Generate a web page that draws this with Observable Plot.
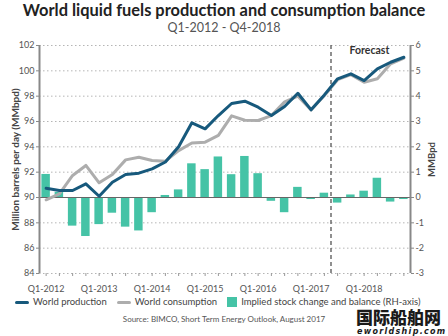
<!DOCTYPE html>
<html>
<head>
<meta charset="utf-8">
<script src="https://cdn.jsdelivr.net/npm/d3@7"></script>
<script src="https://cdn.jsdelivr.net/npm/@observablehq/plot@0.6"></script>
<style>
  html, body { margin: 0; padding: 0; background: #fff; }
  body { width: 448px; height: 336px; position: relative; overflow: hidden; font-family: Lato, "Open Sans", sans-serif; }
  #title { position: absolute; top: 0px; left: 0; width: 448px; text-align: center; font-weight: bold; font-size: 16.4px; line-height: 19px; color: #222; }
  #subtitle { position: absolute; top: 20px; left: 0; width: 448px; text-align: center; font-size: 12.5px; line-height: 15px; color: #555; }
  #chart { position: absolute; top: 36px; left: 0; }
  #legend { position: absolute; top: 296px; left: 15px; font-size: 9.5px; line-height: 12px; color: #444; white-space: nowrap; display: flex; align-items: center; }
  #legend .sw { display: inline-block; margin-right: 4px; }
  #legend .item { display: inline-flex; align-items: center; margin-right: 10px; }
  #source { position: absolute; top: 314px; left: 0; width: 448px; text-align: center; font-size: 8px; line-height: 10px; color: #555; }
  #wm1 { position: absolute; top: 308px; left: 356px; font-family: "Noto Sans CJK SC", sans-serif; font-weight: 900; font-size: 17px; line-height: 17px; color: #1a1a1a; }
  #wm2 { position: absolute; top: 327px; left: 357px; font-size: 8px; line-height: 9px; font-weight: bold; font-style: italic; color: #1a1a1a; letter-spacing: 1.3px; font-family: "DejaVu Sans", sans-serif; }
</style>
</head>
<body>
<div id="title">World liquid fuels production and consumption balance</div>
<div id="subtitle">Q1-2012 - Q4-2018</div>
<div id="chart"></div>
<div id="legend"></div>
<div id="source">Source: BIMCO, Short Term Energy Outlook, August 2017</div>
<div id="wm1">国际船舶网</div>
<div id="wm2">eworldship.com</div>
<script>
const quarters = ["Q1-2012","Q2-2012","Q3-2012","Q4-2012","Q1-2013","Q2-2013","Q3-2013","Q4-2013",
  "Q1-2014","Q2-2014","Q3-2014","Q4-2014","Q1-2015","Q2-2015","Q3-2015","Q4-2015",
  "Q1-2016","Q2-2016","Q3-2016","Q4-2016","Q1-2017","Q2-2017","Q3-2017","Q4-2017",
  "Q1-2018","Q2-2018","Q3-2018","Q4-2018"];
const production = [90.73, 90.55, 90.55, 91.08, 90.1, 91.2, 91.82, 91.92, 92.26, 92.8, 94.0, 95.9,
  95.42, 96.47, 97.42, 97.6, 97.13, 96.47, 97.18, 98.23, 96.92, 98.1, 99.37, 99.76, 99.23, 100.16, 100.68, 101.07];
const consumption = [89.82, 90.29, 91.74, 92.53, 91.16, 91.82, 92.97, 93.18, 92.92, 92.87, 93.7, 94.3,
  94.37, 94.9, 96.45, 96.1, 96.08, 96.47, 97.55, 98.0, 96.92, 98.05, 99.3, 99.7, 99.1, 99.37, 100.55, 101.0];
const balance = [0.91, 0.2, -1.13, -1.54, -1.07, -0.62, -1.17, -1.32, -0.6, 0.08, 0.3, 1.33,
  1.1, 1.6, 0.9, 1.62, 0.94, -0.15, -0.6, 0.4, -0.08, 0.17, -0.22, 0.1, 0.25, 0.76, -0.18, -0.08];
const leftTicks = [84, 86, 88, 90, 92, 94, 96, 98, 100, 102];
const rightTicks = [-3, -2, -1, 0, 1, 2, 3, 4, 5, 6];
const xLabelQuarters = ["Q1-2012","Q1-2013","Q1-2014","Q1-2015","Q1-2016","Q1-2017","Q1-2018"];
const forecastAfter = "Q2-2017";
const leftLabel = "Million barrels per day (MMbpd)";
const rightLabel = "MMBpd";

const rows = quarters.map((q, i) => ({q, i, production: production[i], consumption: consumption[i], balance: balance[i]}));
// right axis (MMBpd) maps onto left scale: 0 -> 90, 1 unit -> 2 units
const toLeft = v => 90 + 2 * v;
const fromLeft = v => (v - 90) / 2;

const cProd = "#17597c", cCons = "#adadad", cBar = "#45c3a6";
const fIdx = quarters.indexOf(forecastAfter) + 0.5;

const chart = Plot.plot({
  width: 448, height: 262,
  marginTop: 9, marginLeft: 39, marginRight: 38, marginBottom: 25,
  style: {fontFamily: "Lato, 'Open Sans', sans-serif", fontSize: "9px", color: "#555", background: "transparent", overflow: "visible"},
  x: {domain: [-0.5, quarters.length - 0.5]},
  y: {domain: [84, 102]},
  marks: [
    Plot.ruleY(leftTicks.filter(t => t !== 90), {stroke: "#b5b5b5", strokeDasharray: "1.5,2.5", strokeWidth: 1}),
    Plot.rectY(rows, {x1: d => d.i - 0.32, x2: d => d.i + 0.32, y1: 90, y2: d => toLeft(d.balance), fill: cBar}),
    Plot.ruleY([90], {stroke: "#666", strokeWidth: 1}),
    Plot.ruleX([fIdx], {stroke: "#555", strokeDasharray: "4,3", strokeWidth: 1.3}),
    Plot.line(rows, {x: "i", y: "consumption", stroke: cCons, strokeWidth: 3}),
    Plot.line(rows, {x: "i", y: "production", stroke: cProd, strokeWidth: 3}),
    Plot.ruleX([-0.5], {stroke: "#888", strokeWidth: 2}),
    Plot.ruleX([quarters.length - 0.5], {stroke: "#888", strokeWidth: 2}),
    Plot.axisY({anchor: "left", ticks: leftTicks, tickSize: 3, tickPadding: 2, stroke: "#888", label: null}),
    Plot.axisY({anchor: "right", ticks: rightTicks.map(toLeft), tickFormat: v => String(fromLeft(v)),
      tickSize: 3, tickPadding: 2, stroke: "#888", label: null}),
    Plot.text([leftLabel], {frameAnchor: "left", textAnchor: "middle", dx: -24, rotate: -90, text: d => d, fontSize: 10, fontWeight: "bold", fill: "#444"}),
    Plot.text([rightLabel], {frameAnchor: "right", textAnchor: "middle", dx: 21, rotate: -90, text: d => d, fontSize: 9.5, fontWeight: "bold", fill: "#444"}),
    Plot.axisX({ticks: quarters.map((q, i) => i), tickFormat: () => "", tickSize: 3, stroke: "#999", label: null}),
    Plot.axisX({ticks: xLabelQuarters.map(q => quarters.indexOf(q)), tickFormat: i => quarters[i], tickSize: 0, tickPadding: 12, label: null}),
    Plot.text(["Forecast"], {x: 24.4, y: 101.6, text: d => d, fontWeight: "bold", fontSize: 10.5, fill: "#333"})
  ]
});
document.getElementById("chart").append(chart);

const legendItems = [
  {label: "World production", type: "line", color: cProd},
  {label: "World consumption", type: "line", color: cCons},
  {label: "Implied stock change and balance (RH-axis)", type: "box", color: cBar}
];
const lg = document.getElementById("legend");
for (const it of legendItems) {
  const item = document.createElement("span");
  item.className = "item";
  const sw = document.createElement("span");
  sw.className = "sw";
  if (it.type === "line") { sw.style.width = "14px"; sw.style.height = "3px"; sw.style.borderRadius = "2px"; }
  else { sw.style.width = "10px"; sw.style.height = "10px"; }
  sw.style.background = it.color;
  item.append(sw, document.createTextNode(it.label));
  lg.append(item);
}
</script>
</body>
</html>
